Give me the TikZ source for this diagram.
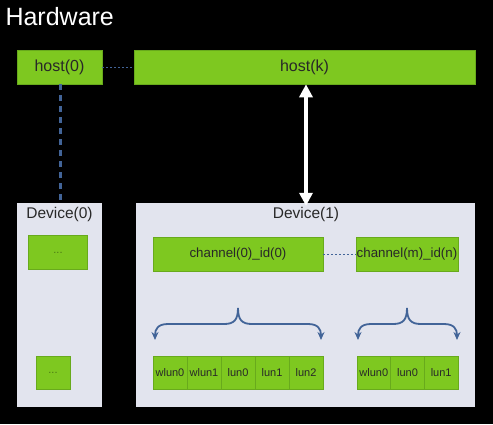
\documentclass[tikz,border=0pt]{standalone}
\usepackage{fontspec}
\setmainfont{Liberation Sans}
\usetikzlibrary{arrows.meta}
\definecolor{hwgreen}{RGB}{126,200,32}
\definecolor{hwedge}{RGB}{104,170,28}
\definecolor{devgray}{RGB}{226,228,238}
\definecolor{linkblue}{RGB}{66,100,152}
\definecolor{inktext}{RGB}{40,40,40}
\begin{document}
\begin{tikzpicture}[x=1pt,y=-1pt]
	\def \hostrow{67}
	\def \chanrow{254}
	\def \lunrow{372.5}
	\def \bracetop{308}
	\def \bracemid{324}
	\def \braceend{340}
	\tikzstyle{h-node}=[fill=hwgreen,draw=hwedge,line width=0.6pt,text=inktext,minimum height=34pt,inner sep=0pt,font=\fontsize{16}{19}\selectfont]
	\tikzstyle{c-node}=[h-node,font=\fontsize{13.3}{15}\selectfont]
	\tikzstyle{l-node}=[h-node,minimum height=33pt,font=\fontsize{11}{13}\selectfont]
	\tikzstyle{dots}=[h-node,text=hwedge!70!black,font=\fontsize{11}{13}\selectfont]
	\tikzstyle{dev}=[fill=devgray,draw=none,minimum height=204pt,inner sep=0pt]
	\tikzstyle{devlabel}=[text=inktext,font=\fontsize{15.5}{18}\selectfont]
	\tikzstyle{brace}=[draw=linkblue,line width=1.8pt,-{Stealth[length=8pt,width=7pt]}]
	% background
	\fill[black] (0,0) rectangle (493,424);
	\node[text=white,anchor=west,font=\fontsize{25}{30}\selectfont] (title) at (2,17) {Hardware};

	% hosts
	\node[h-node,minimum width=85pt] 	(host0)	at (59.5,\hostrow)	{host(0)};
	\node[h-node,minimum width=341pt] 	(hostk)	at (304.5,\hostrow)	{host(k)};

	% devices
	\node[dev,minimum width=85pt] 	(dev0)	at (59.5,305)	{};
	\node[dev,minimum width=339pt] 	(dev1)	at (305.5,305)	{};
	\node[devlabel] 	(dev0lbl)	at (59.5,214)	{Device(0)};
	\node[devlabel] 	(dev1lbl)	at (306,214)	{Device(1)};
	\node[dots,minimum width=59pt] 	(d0a)	at (58,252.5)	{...};
	\node[dots,minimum width=34pt,minimum height=33pt] 	(d0b)	at (53,\lunrow)	{...};

	% channels
	\node[c-node,minimum width=170pt] 	(ch0)	at (238,\chanrow)	{channel(0)\_id(0)};
	\node[c-node,minimum width=102pt] 	(chm)	at (407,\chanrow)	{channel(m)\_id(n)};

	% luns of channel 0
	\node[l-node,minimum width=34pt] 	(l00)	at (170,\lunrow)	{wlun0};
	\node[l-node,minimum width=34pt] 	(l01)	at (204,\lunrow)	{wlun1};
	\node[l-node,minimum width=34pt] 	(l02)	at (238,\lunrow)	{lun0};
	\node[l-node,minimum width=34pt] 	(l03)	at (272,\lunrow)	{lun1};
	\node[l-node,minimum width=34pt] 	(l04)	at (306,\lunrow)	{lun2};
	% luns of channel m
	\node[l-node,minimum width=33.7pt] 	(lm0)	at (373.8,\lunrow)	{wlun0};
	\node[l-node,minimum width=33.7pt] 	(lm1)	at (407.5,\lunrow)	{lun0};
	\node[l-node,minimum width=33.7pt] 	(lm2)	at (441.2,\lunrow)	{lun1};

	% brace points
	\coordinate (b0top) at (238,\bracetop);
	\coordinate (b0l) at (155,\braceend);
	\coordinate (b0r) at (321,\braceend);
	\coordinate (bmtop) at (407,\bracetop);
	\coordinate (bml) at (358,\braceend);
	\coordinate (bmr) at (457,\braceend);

	\path[draw=linkblue,line width=0.9pt,dash pattern=on 2pt off 2pt]
		(host0)	--	(hostk)
		(ch0)	--	(chm);
	\draw[draw=linkblue,line width=3pt,dash pattern=on 6pt off 5pt] (host0.south -| 60,0) -- (dev0.north -| 60,0);
	\draw[white,line width=4.5pt,{Triangle[length=13pt,width=13pt]}-{Triangle[length=13pt,width=13pt]}] (hostk.south -| 306,0) -- ([yshift=-3pt]dev1.north -| 306,0);

	\draw[brace] (b0top) .. controls (238,320) and (234,\bracemid) .. (224,\bracemid) -- (168,\bracemid) .. controls (158,\bracemid) and (155,329) .. (b0l);
	\draw[brace] (b0top) .. controls (238,320) and (242,\bracemid) .. (252,\bracemid) -- (308,\bracemid) .. controls (318,\bracemid) and (321,329) .. (b0r);
	\draw[brace] (bmtop) .. controls (407,320) and (403,\bracemid) .. (393,\bracemid) -- (371,\bracemid) .. controls (361,\bracemid) and (358,329) .. (bml);
	\draw[brace] (bmtop) .. controls (407,320) and (411,\bracemid) .. (421,\bracemid) -- (444,\bracemid) .. controls (454,\bracemid) and (457,329) .. (bmr);
\end{tikzpicture}
\end{document}
